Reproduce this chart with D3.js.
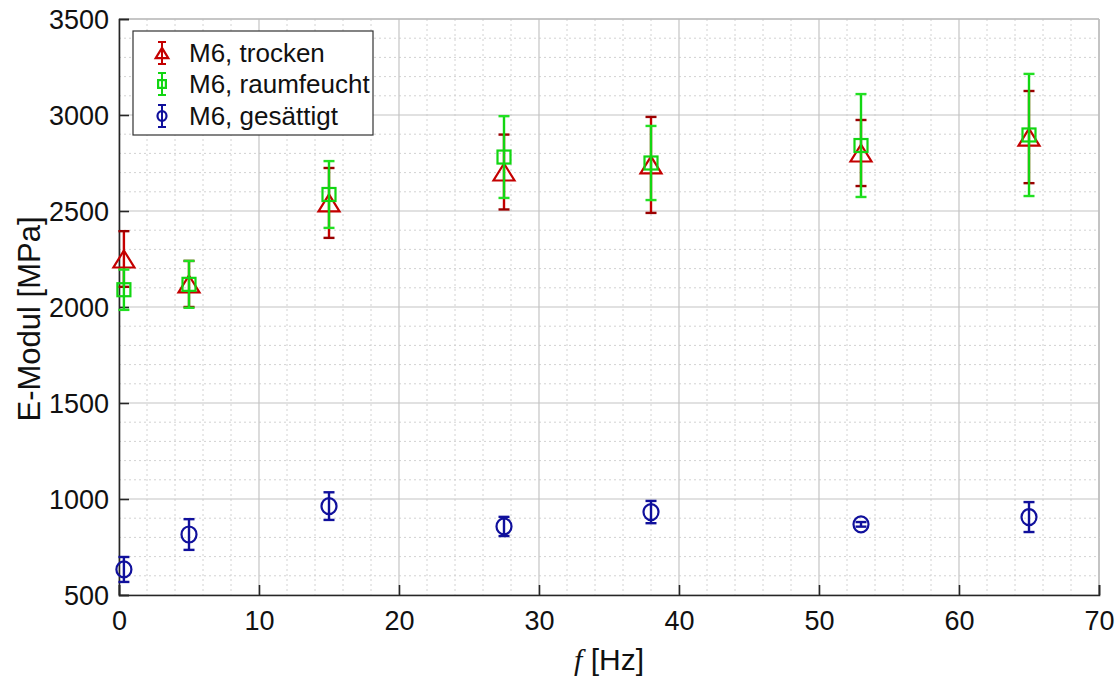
<!DOCTYPE html>
<html>
<head>
<meta charset="utf-8">
<script src="https://cdn.jsdelivr.net/npm/d3@7"></script>
<style>
  html, body { margin: 0; padding: 0; background: #fff; }
  svg { display: block; font-family: "Liberation Sans", Arial, sans-serif; }
</style>
</head>
<body>
<svg id="chart" width="1120" height="680"></svg>
<script>
// ---- data ----
const freq = [0.35, 5, 15, 27.5, 38, 53, 65];
const trockenMean = [2250, 2120, 2542, 2703, 2740, 2802, 2885];
const trockenErr  = [145, 120, 182, 195, 250, 172, 240];
const feuchtMean  = [2090, 2118, 2586, 2781, 2750, 2841, 2896];
const feuchtErr   = [105, 122, 174, 213, 193, 268, 318];
const gesMean     = [633, 815, 963, 857, 932, 868, 906];
const gesErr      = [65, 80, 72, 50, 58, 12, 78];
const xTicks = [0, 10, 20, 30, 40, 50, 60, 70];
const yTicks = [500, 1000, 1500, 2000, 2500, 3000, 3500];
const seriesNames = ["M6, trocken", "M6, raumfeucht", "M6, gesättigt"];

// ---- layout ----
const X0 = 119, X1 = 1099, Y0 = 19, Y1 = 595;
const svg = d3.select("#chart");
const x = d3.scaleLinear().domain([0, 70]).range([X0, X1]);
const y = d3.scaleLinear().domain([500, 3500]).range([Y1, Y0]);

// minor grid
const minorX = d3.range(0, 70.001, 2).filter(v => v % 10 !== 0);
const minorY = d3.range(500, 3500.001, 100).filter(v => v % 500 !== 0);
const g = svg.append("g");
g.selectAll(".mx").data(minorX).join("line")
  .attr("x1", d => x(d)).attr("x2", d => x(d)).attr("y1", Y0).attr("y2", Y1)
  .attr("stroke", "#d2d2d2").attr("stroke-width", 1).attr("stroke-dasharray", "2,3");
g.selectAll(".my").data(minorY).join("line")
  .attr("y1", d => y(d)).attr("y2", d => y(d)).attr("x1", X0).attr("x2", X1)
  .attr("stroke", "#d2d2d2").attr("stroke-width", 1).attr("stroke-dasharray", "2,3");
// major grid
g.selectAll(".gx").data(xTicks).join("line")
  .attr("x1", d => x(d)).attr("x2", d => x(d)).attr("y1", Y0).attr("y2", Y1)
  .attr("stroke", "#c4c4c4").attr("stroke-width", 1.2);
g.selectAll(".gy").data(yTicks).join("line")
  .attr("y1", d => y(d)).attr("y2", d => y(d)).attr("x1", X0).attr("x2", X1)
  .attr("stroke", "#c4c4c4").attr("stroke-width", 1.2);
// top/right box
svg.append("line").attr("x1", X0).attr("x2", X1).attr("y1", Y0).attr("y2", Y0).attr("stroke", "#bdbdbd").attr("stroke-width", 1.5);
svg.append("line").attr("x1", X1).attr("x2", X1).attr("y1", Y0).attr("y2", Y1).attr("stroke", "#bdbdbd").attr("stroke-width", 1.5);

// axes
const xAxis = d3.axisBottom(x).tickValues(xTicks).tickSize(-10).tickPadding(16).tickFormat(d3.format("d"));
const yAxis = d3.axisLeft(y).tickValues(yTicks).tickSize(-10).tickPadding(10).tickFormat(d3.format("d"));
const ax = svg.append("g").attr("transform", `translate(0,${Y1})`).call(xAxis);
const ay = svg.append("g").attr("transform", `translate(${X0},0)`).call(yAxis);
[ax, ay].forEach(a => {
  a.select(".domain").attr("stroke", "#262626").attr("stroke-width", 1.6);
  a.selectAll(".tick line").attr("stroke", "#262626").attr("stroke-width", 1.6);
  a.selectAll(".tick text").attr("fill", "#111").style("font-size", "27px")
    .style("font-family", "'Liberation Sans', Arial, sans-serif");
});
ay.selectAll(".tick text").attr("dy", "0.35em");

// labels
svg.append("text").attr("transform", `translate(40,${(Y0 + Y1) / 2 + 12}) rotate(-90)`)
  .attr("text-anchor", "middle").style("font-size", "31px").attr("fill", "#111")
  .text("E-Modul [MPa]");
const xl = svg.append("text").attr("x", (X0 + X1) / 2).attr("y", 670)
  .attr("text-anchor", "middle").style("font-size", "30px").attr("fill", "#111");
xl.append("tspan").style("font-family", "'Liberation Serif', 'Times New Roman', serif")
  .style("font-style", "italic").text("f");
xl.append("tspan").text(" [Hz]");

// series
const series = [
  { mean: trockenMean, err: trockenErr, color: "#c40000", capColor: "#9a0000", marker: "tri" },
  { mean: feuchtMean,  err: feuchtErr,  color: "#12d612", capColor: "#22e022", marker: "sq" },
  { mean: gesMean,     err: gesErr,     color: "#10109c", capColor: "#10109c", marker: "circ" }
];

function drawMarker(sel, type, cx, cy, color, scale) {
  const s = scale || 1;
  if (type === "tri") {
    const w = 10.5 * s, h = 8.5 * s;
    sel.append("path").attr("d", `M${cx},${cy - h}L${cx + w},${cy + h}L${cx - w},${cy + h}Z`)
      .attr("fill", "none").attr("stroke", color).attr("stroke-width", 2.2);
  } else if (type === "sq") {
    const r = 6.5 * s;
    sel.append("rect").attr("x", cx - r).attr("y", cy - r).attr("width", 2 * r).attr("height", 2 * r)
      .attr("fill", "none").attr("stroke", color).attr("stroke-width", 2.2);
  } else {
    sel.append("ellipse").attr("cx", cx).attr("cy", cy).attr("rx", 7.5 * s).attr("ry", 8 * s)
      .attr("fill", "none").attr("stroke", color).attr("stroke-width", 2.2);
  }
}

series.forEach(sr => {
  const sg = svg.append("g");
  freq.forEach((f, i) => {
    const cx = x(f);
    const yt = y(sr.mean[i] + sr.err[i]), yb = y(sr.mean[i] - sr.err[i]);
    sg.append("line").attr("x1", cx).attr("x2", cx).attr("y1", yt).attr("y2", yb)
      .attr("stroke", sr.color).attr("stroke-width", 2.4);
    [yt, yb].forEach(yy => sg.append("line").attr("x1", cx - 5.5).attr("x2", cx + 5.5)
      .attr("y1", yy).attr("y2", yy).attr("stroke", sr.capColor).attr("stroke-width", 2.4));
    drawMarker(sg, sr.marker, cx, y(sr.mean[i]), sr.color, 1);
  });
});

// legend
const lg = svg.append("g");
lg.append("rect").attr("x", 133).attr("y", 31).attr("width", 240).attr("height", 104)
  .attr("fill", "#fff").attr("stroke", "#333").attr("stroke-width", 1.2);
const rowsY = [53, 84, 116];
series.forEach((sr, i) => {
  const cx = 162, cy = rowsY[i];
  lg.append("line").attr("x1", cx).attr("x2", cx).attr("y1", cy - 11).attr("y2", cy + 11)
    .attr("stroke", sr.color).attr("stroke-width", 2);
  [cy - 11, cy + 11].forEach(yy => lg.append("line").attr("x1", cx - 4).attr("x2", cx + 4)
    .attr("y1", yy).attr("y2", yy).attr("stroke", sr.color).attr("stroke-width", 2));
  drawMarker(lg, sr.marker, cx, cy, sr.color, 0.6);
  lg.append("text").attr("x", 189).attr("y", cy).attr("dy", "0.35em")
    .style("font-size", "26px").attr("fill", "#111").text(seriesNames[i]);
});
</script>
</body>
</html>
